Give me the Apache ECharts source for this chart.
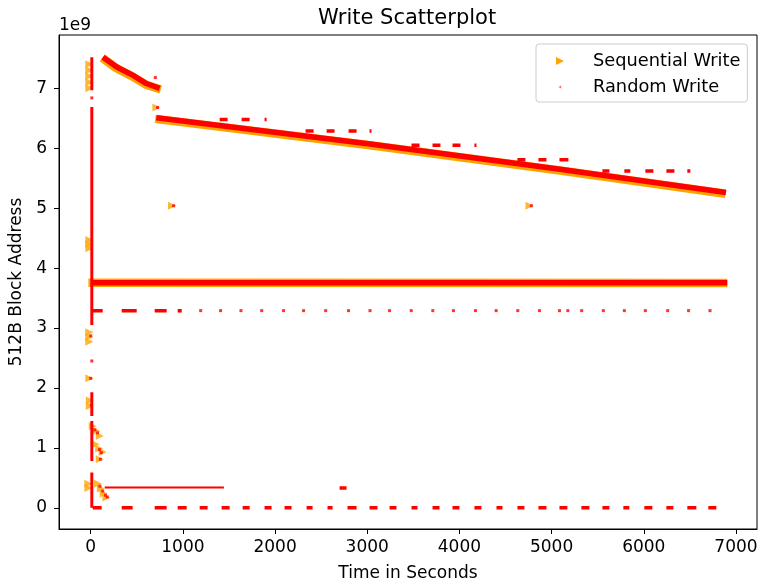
<!DOCTYPE html>
<html>
<head>
<meta charset="utf-8">
<title>Write Scatterplot</title>
<script src="https://cdn.jsdelivr.net/npm/echarts@6/dist/echarts.min.js"></script>
<style>
  html, body { margin: 0; padding: 0; background: #fff; }
  #box { width: 761px; height: 587px; }
</style>
</head>
<body>
<div id="box"></div>
<script>
// addresses are kept in units of 1e9 (matches the "1e9" offset text on the y axis)
const xTicks = [0, 1000, 2000, 3000, 4000, 5000, 6000, 7000];
const yTicks = [0, 1, 2, 3, 4, 5, 6, 7];

// Sequential Write - single triangles and small clusters
const seqPoints = [
  [-15, 7.40], [-15, 7.30], [-15, 7.20], [-15, 7.10], [-15, 7.00],
  [-15, 4.47], [-15, 4.40], [-15, 4.33],
  [-15, 2.93], [-15, 2.85], [-15, 2.77],
  [-15, 2.16],
  [-10, 1.79], [-10, 1.70],
  [22, 1.36], [60, 1.28], [98, 1.20],
  [54, 1.06], [92, 0.99], [130, 0.93],
  [98, 0.81],
  [-25, 0.40], [-25, 0.33],
  [80, 0.40], [110, 0.32], [140, 0.24], [170, 0.17],
  [712, 6.68],
  [882, 5.04], [4760, 5.04]
];
// Sequential Write - dense runs (read as polylines)
const seqRuns = [
  [[125, 7.51], [255, 7.36], [310, 7.31], [450, 7.20], [600, 7.06], [760, 6.98]],
  [[700, 6.49], [3030, 6.05], [5090, 5.63], [6885, 5.24]],
  [[-25, 3.755], [6905, 3.75]]
];

// Random Write - dense runs
const randRuns = [
  [[133, 7.52], [260, 7.38], [314, 7.33], [455, 7.22], [604, 7.08], [748, 7.00]],
  [[712, 6.51], [3030, 6.07], [5090, 5.65], [6892, 5.26]],
  [[10, 3.755], [6906, 3.755]]
];
// Random Write - the column at t = 0
const randColumn = [
  [[12, 7.52], [12, 6.97]],
  [[12, 6.69], [12, 3.05]],
  [[12, 1.93], [12, 1.53]],
  [[12, 1.45], [12, 0.78]],
  [[12, 0.59], [12, 0.00]]
];
const randThin = [
  [[152, 0.34], [1445, 0.34]]
];
// Random Write - short dashes: [x start, x end, y]
const randDashes = [
  [22, 119, 0], [336, 455, 0], [694, 824, 0], [943, 1041, 0], [1182, 1268, 0],
  [1420, 1507, 0], [1648, 1724, 0], [1886, 1962, 0], [2103, 2179, 0], [2342, 2407, 0],
  [2569, 2624, 0], [2786, 2884, 0], [3025, 3111, 0], [3242, 3317, 0], [3480, 3545, 0],
  [3708, 3784, 0], [3925, 4000, 0], [4163, 4239, 0], [4402, 4467, 0], [4629, 4705, 0],
  [4857, 4944, 0], [5085, 5171, 0], [5323, 5410, 0], [5551, 5627, 0], [5778, 5843, 0],
  [6006, 6093, 0], [6245, 6321, 0], [6472, 6570, 0], [6700, 6787, 0],
  [2700, 2775, 0.33],
  [11, 130, 3.29], [336, 499, 3.29], [694, 824, 3.29], [943, 987, 3.29],
  [1399, 1485, 6.48], [1637, 1724, 6.48], [1886, 1908, 6.48],
  [2331, 2418, 6.29], [2559, 2645, 6.29], [2797, 2884, 6.29], [3025, 3046, 6.29],
  [3480, 3567, 6.05], [3708, 3794, 6.05], [3925, 4011, 6.05], [4163, 4185, 6.05],
  [4629, 4716, 5.81], [4857, 4944, 5.81], [5085, 5182, 5.81],
  [5551, 5627, 5.62], [5789, 5854, 5.62], [6017, 6104, 5.62], [6245, 6332, 5.62], [6472, 6505, 5.62]
];
// Random Write - isolated points
const randPoints = [
  [12, 6.84], [12, 2.45], [701, 7.18],
  [1193, 3.29], [1409, 3.29], [1630, 3.29], [1855, 3.29], [2092, 3.29], [2309, 3.29],
  [2549, 3.29], [2797, 3.29], [3030, 3.29], [3242, 3.29], [3477, 3.29], [3711, 3.29],
  [3935, 3.29], [4174, 3.29], [4398, 3.29], [4633, 3.29], [4868, 3.29], [5085, 3.29],
  [5176, 3.29], [5326, 3.29], [5561, 3.29], [5789, 3.29], [6017, 3.29], [6259, 3.29],
  [6486, 3.29], [6718, 3.29],
  [725, 6.68], [900, 5.04], [4780, 5.04],
  [0, 2.87], [0, 2.16], [8, 1.72], [45, 1.30], [75, 1.25], [95, 0.97], [115, 0.92],
  [105, 0.81], [100, 0.36], [130, 0.28], [160, 0.21], [180, 0.18]
];

const ORANGE = '#ffa500';
const RED = '#ff0000';
const FONT = 'DejaVu Sans';
const triIcon = 'path://M0,0L10,5L0,10Z';
const dotIcon = 'path://M0,0M10,10M3,5L6.5,3.2L6.5,6.8Z';

// line data with breaks between runs
function joinRuns(runs) {
  const out = [];
  runs.forEach((run, i) => {
    if (i) out.push(['-', '-']);
    run.forEach(p => out.push(p));
  });
  return out;
}
function dashRuns(dashes) {
  return dashes.map(d => [[d[0], d[2]], [d[1], d[2]]]);
}
function runSeries(name, runs, color, width) {
  return {
    name: name, type: 'line', data: joinRuns(runs), symbol: 'none',
    connectNulls: false, silent: true,
    lineStyle: { color: color, width: width },
    itemStyle: { color: color }
  };
}

let chart = echarts.init(document.getElementById('box'));
let option = {
  animation: false,
  backgroundColor: '#fff',
  title: {
    text: 'Write Scatterplot',
    left: 318, top: 8, padding: 0,
    textStyle: { fontFamily: FONT, fontSize: 21, fontWeight: 'normal', color: '#000' }
  },
  graphic: [{
    type: 'text', left: 59, top: 17,
    style: { text: '1e9', font: '17px "DejaVu Sans"', fill: '#000' }
  }],
  legend: {
    orient: 'vertical', left: 536, top: 44,
    padding: [7, 7, 5, 20], itemGap: 6, itemWidth: 8, itemHeight: 8,
    borderColor: '#cccccc', borderWidth: 1, borderRadius: 3,
    backgroundColor: 'rgba(255,255,255,0.8)', selectedMode: false,
    textStyle: { fontFamily: FONT, fontSize: 17.8, color: '#000', lineHeight: 20, padding: [0, 0, 0, 24] },
    data: [
      { name: 'Sequential Write', icon: triIcon, itemStyle: { color: ORANGE } },
      { name: 'Random Write', icon: dotIcon, itemStyle: { color: RED, opacity: 0.6 } }
    ]
  },
  grid: {
    left: 59, right: 4, top: 35, bottom: 57,
    show: true, borderColor: '#000', borderWidth: 1
  },
  xAxis: {
    type: 'value', min: -344, max: 7228,
    name: 'Time in Seconds', nameLocation: 'middle', nameGap: 36,
    nameTextStyle: { fontFamily: FONT, fontSize: 17, color: '#000' },
    axisLine: { show: true, onZero: false, lineStyle: { color: '#000' } },
    axisTick: { show: true, length: 5, customValues: xTicks, lineStyle: { color: '#000' } },
    axisLabel: {
      customValues: xTicks, margin: 10, color: '#000', fontFamily: FONT, fontSize: 17,
      formatter: v => String(v)
    },
    splitLine: { show: false }
  },
  yAxis: {
    type: 'value', min: -0.354, max: 7.89,
    name: '512B Block Address', nameLocation: 'middle', nameGap: 34,
    nameMoveOverlap: false,
    nameTextStyle: { fontFamily: FONT, fontSize: 17, color: '#000' },
    axisLine: { show: true, onZero: false, lineStyle: { color: '#000' } },
    axisTick: { show: true, length: 5, customValues: yTicks, lineStyle: { color: '#000' } },
    axisLabel: {
      customValues: yTicks, margin: 12, color: '#000', fontFamily: FONT, fontSize: 17,
      formatter: v => String(v)
    },
    splitLine: { show: false }
  },
  series: [
    runSeries('Sequential Write', seqRuns, ORANGE, 8.5),
    {
      name: 'Sequential Write', type: 'scatter', data: seqPoints,
      symbol: triIcon, symbolSize: 8, silent: true,
      itemStyle: { color: ORANGE }
    },
    runSeries('Random Write', randRuns, RED, 5.5),
    runSeries('Random Write', randColumn, RED, 3),
    runSeries('Random Write', dashRuns(randDashes), RED, 3.5),
    runSeries('Random Write', randThin, RED, 2),
    {
      name: 'Random Write', type: 'scatter', data: randPoints,
      symbol: 'rect', symbolSize: 3, silent: true,
      itemStyle: { color: RED }
    }
  ]
};
chart.setOption(option);
</script>
</body>
</html>
